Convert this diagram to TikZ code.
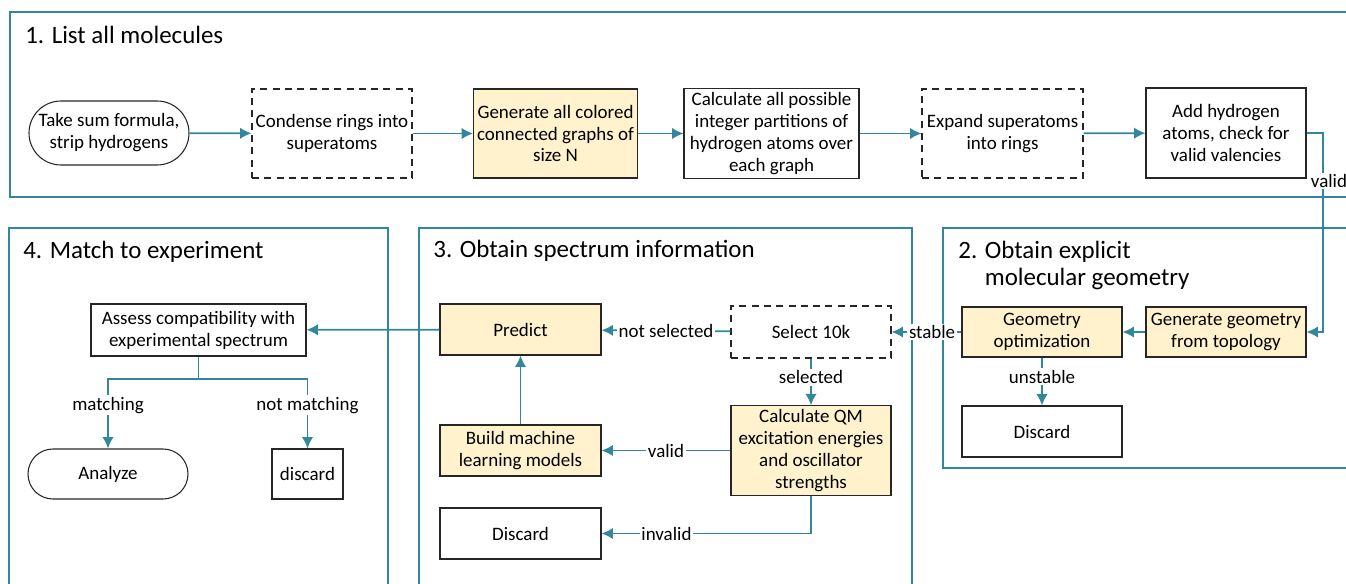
\documentclass[tikz,border=0pt]{standalone}
\usepackage{fontspec}
\setmainfont{Carlito}
\usetikzlibrary{arrows.meta,positioning}
\definecolor{flowteal}{RGB}{49,135,155}
\definecolor{stepfill}{HTML}{FFF2CC}

\begin{document}
\begin{tikzpicture}[x=0.02cm,y=-0.02cm,>={Latex[length=6.5pt,width=6.5pt]},
  font=\fontsize{10.8}{12.5}\selectfont,
  box/.style={draw=black!85,line width=0.6pt,align=center,inner sep=2pt},
  sz/.style 2 args={minimum width=#1*0.02cm,minimum height=#2*0.02cm},
  pill/.style={box,rounded corners=#1*0.01cm},
  hl/.style={box,fill=stepfill},
  dbox/.style={box,dash pattern=on 4pt off 3pt},
  flow/.style={->,draw=flowteal,line width=1pt},
  lbl/.style={fill=white,inner sep=1pt},
  sect/.style={draw=flowteal,line width=0.6pt},
  ttl/.style={anchor=base west,inner sep=0pt,align=left,
    font=\fontsize{14.2}{15.5}\selectfont}]
  \useasboundingbox (0,0) rectangle (1346,584);
  \clip (0,0) rectangle (1346,584);

  % sections
  \draw[sect] (10,12) rectangle (1360,197);
  \draw[sect] (9,228) rectangle (388,600);
  \draw[sect] (419,228) rectangle (912,600);
  \draw[sect] (943,228) rectangle (1360,468);
  \node[ttl] (t1) at (25,44) {1. List all molecules};
  \node[ttl] (t2) at (958,286) {2. Obtain explicit\\\hphantom{2. }molecular geometry};
  \node[ttl] (t3) at (433,258) {3. Obtain spectrum information};
  \node[ttl] (t4) at (23,259) {4. Match to experiment};

  % 1. list all molecules
  \node[pill=64,sz={160}{64}] (sumf) at (109,133) {Take sum formula,\\strip hydrogens};
  \node[dbox,sz={160}{89}] (cond) at (332,133.5) {Condense rings into\\superatoms};
  \node[hl,sz={161}{89}] (gen) at (555.5,133.5) {Generate all colored\\connected graphs of\\size N};
  \node[box,sz={175}{89}] (part) at (771.5,133.5) {Calculate all possible\\integer partitions of\\hydrogen atoms over\\each graph};
  \node[dbox,sz={161}{89}] (expd) at (1002.5,133.5) {Expand superatoms\\into rings};
  \node[box,sz={160}{90}] (addh) at (1226,133) {Add hydrogen\\atoms, check for\\valid valencies};

  % 2. explicit geometry
  \node[hl,sz={160}{50}] (topo) at (1226,332) {Generate geometry\\from topology};
  \node[hl,sz={160}{50}] (opt) at (1042,332) {Geometry\\optimization};
  \node[box,sz={160}{51}] (dropA) at (1042,431.5) {Discard};

  % 3. spectrum information
  \node[dbox,sz={160}{52}] (sel) at (811,332) {Select 10k};
  \node[hl,sz={161}{51}] (pred) at (520.5,329.5) {Predict};
  \node[hl,sz={161}{51}] (ml) at (520.5,450.5) {Build machine\\learning models};
  \node[hl,sz={160}{89}] (qm) at (811,450.5) {Calculate QM\\excitation energies\\and oscillator\\strengths};
  \node[box,sz={161}{51}] (dropB) at (520.5,533.5) {Discard};

  % 4. match to experiment
  \node[box,sz={215}{52}] (assess) at (198.5,330) {Assess compatibility with\\experimental spectrum};
  \node[pill=50,sz={160}{50}] (ana) at (108,474) {Analyze};
  \node[box,sz={71}{50}] (dropC) at (307.5,474) {discard};

  \coordinate (validpt) at (1323,181);
  \coordinate (split) at (198.5,379);

  % connectors
  \draw[flow] (sumf) -- (cond);
  \draw[flow] (cond) -- (gen);
  \draw[flow] (gen) -- (part);
  \draw[flow] (part) -- (expd);
  \draw[flow] (expd) -- (addh);
  \draw[flow] (addh.east) -| (validpt) node[lbl,xshift=0.12cm] {valid} |- (topo.east);
  \draw[flow] (topo) -- (opt);
  \draw[flow] (opt) -- node[lbl,pos=0.4] {unstable} (dropA);
  \draw[flow] (opt) -- node[lbl,pos=0.42] {stable} (sel);
  \draw[flow] (sel) -- node[lbl] {not selected} (pred);
  \draw[flow] (sel) -- node[lbl,pos=0.4] {selected} (qm);
  \draw[flow] (qm) -- node[lbl] {valid} (ml);
  \draw[flow] (qm.south) |- node[lbl,pos=0.845] {invalid} (dropB.east);
  \draw[flow] (ml) -- (pred);
  \draw[flow] (pred) -- (assess);
  \draw[flow] (assess.south) -- (split) -| node[lbl,pos=0.69] {matching} (ana.north);
  \draw[flow] (split) -| node[lbl,pos=0.69] {not matching} (dropC.north);
\end{tikzpicture}
\end{document}
